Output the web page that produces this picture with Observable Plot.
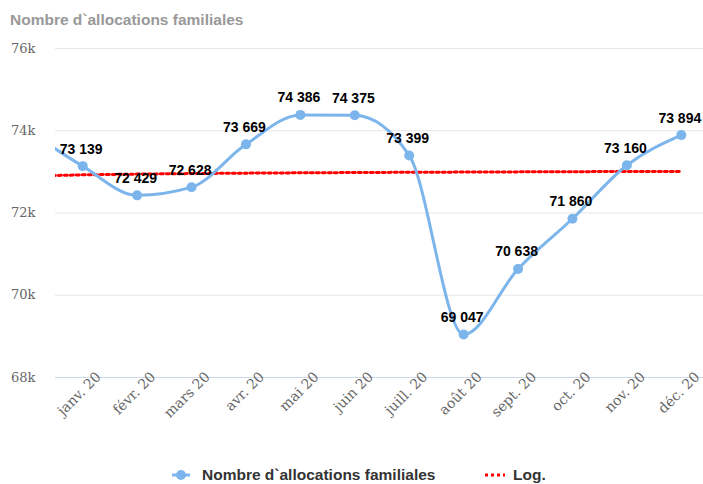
<!DOCTYPE html>
<html><head><meta charset="utf-8">
<script src="https://cdn.jsdelivr.net/npm/d3@7"></script>
<script src="https://cdn.jsdelivr.net/npm/@observablehq/plot@0.6"></script>
<style>
body{margin:0;background:#fff;width:703px;height:484px;overflow:hidden;position:relative;font-family:"Liberation Sans",Arial,sans-serif;}
#title{position:absolute;left:10px;top:11px;font-size:15.5px;font-weight:bold;color:#999;white-space:nowrap;line-height:18px;}
#chart{position:absolute;left:0;top:30px;}
.leg{position:absolute;top:466px;font-size:15.5px;font-weight:bold;color:#333;line-height:18px;white-space:nowrap;}
.sw{position:absolute;top:466px;}
</style></head><body>
<div id="title">Nombre d`allocations familiales</div>
<div id="chart"></div>
<svg class="sw" style="left:172px" width="18" height="18"><line x1="0" x2="18" y1="9" y2="9" stroke="#7cb5ec" stroke-width="3"/><circle cx="9" cy="9" r="5" fill="#7cb5ec"/></svg>
<div class="leg" style="left:202px">Nombre d`allocations familiales</div>
<svg class="sw" style="left:485px" width="20" height="18"><line x1="0" x2="20" y1="9" y2="9" stroke="red" stroke-width="3" stroke-dasharray="3,3"/></svg>
<div class="leg" style="left:513px">Log.</div>
<script>
// index 0 is the lead-in point (outside the visible axis)
const months = ["déc. 19","janv. 20","févr. 20","mars 20","avr. 20","mai 20","juin 20","juill. 20","août 20","sept. 20","oct. 20","nov. 20","déc. 20"];
const allocations = [74000,73139,72429,72628,73669,74386,74375,73399,69047,70638,71860,73160,73894];
const logTrend = [72897,72928,72946,72959,72969,72977,72984,72990,72995,73000,73005,73008,73012];
const yTicks = [68000,70000,72000,74000,76000];

const rows = months.map((m,i)=>({i, m, v: allocations[i], t: logTrend[i]}));
const shown = rows.filter(d=>d.i>0);
const loc = d3.formatLocale({thousands:" ", grouping:[3], decimal:",", currency:["","€"]});
const fmt = loc.format(",d");

const chart = Plot.plot({
  width:703, height:410,
  marginLeft:55, marginRight:0, marginTop:18, marginBottom:63,
  x:{type:"linear", domain:[0.5,12.5], range:[55,708]},
  y:{domain:[68000,76000]},
  style:{background:"transparent", overflow:"visible"},
  marks:[
    Plot.gridY(yTicks,{stroke:"#e6e6e6", strokeOpacity:1}),
    Plot.axisY({ticks:yTicks, tickFormat:d=>d/1000+"k", tickSize:0, tickPadding:20, fontFamily:"DejaVu Serif", fontSize:13, fill:"#666", label:null}),
    Plot.ruleY([68000],{stroke:"#ccd6eb"}),
    Plot.axisX({ticks:d3.range(1,13), tickFormat:i=>months[i], tickRotate:-45, tickSize:0, tickPadding:0, dx:16, dy:-3, fontFamily:"DejaVu Serif", fontSize:14, fill:"#666", label:null}),
    Plot.line(rows,{x:"i", y:"t", stroke:"red", strokeWidth:3, strokeDasharray:"3,3", clip:true}),
    Plot.line(rows,{x:"i", y:"v", curve:"monotone-x", stroke:"#7cb5ec", strokeWidth:3, clip:true}),
    Plot.dot(shown,{x:"i", y:"v", r:5, fill:"#7cb5ec", stroke:"none"}),
    Plot.text(shown,{x:"i", y:"v", text:d=>fmt(d.v), dy:-17, dx:-1.5, fontSize:14, fontWeight:"bold", fill:"#000", fontFamily:"Liberation Sans, Arial, sans-serif"})
  ]
});
document.getElementById("chart").appendChild(chart);
</script>
</body></html>
